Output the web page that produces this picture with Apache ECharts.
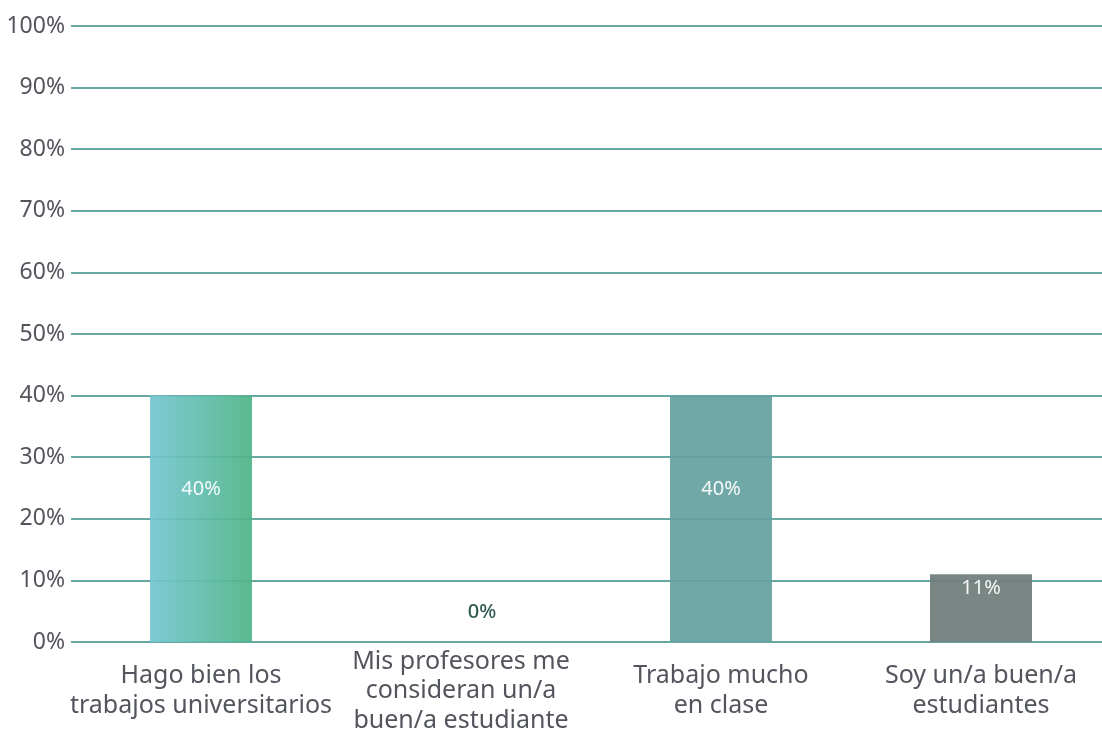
<!DOCTYPE html>
<html>
<head>
<meta charset="utf-8">
<script src="https://cdn.jsdelivr.net/npm/echarts@6/dist/echarts.min.js"></script>
<style>
  html, body { margin: 0; padding: 0; background: #ffffff; }
  #chart { width: 1102px; height: 733px; }
</style>
</head>
<body>
<div id="chart"></div>
<script>
// Survey answers and their shares (percent)
const categories = [
  'Hago bien los\ntrabajos universitarios',
  'Mis profesores me\nconsideran un/a\nbuen/a estudiante',
  'Trabajo mucho\nen clase',
  'Soy un/a buen/a\nestudiantes'
];
const values = [40, 0, 40, 11];
const yTicks = [0, 10, 20, 30, 40, 50, 60, 70, 80, 90, 100];

const FONT = '"Noto Sans", "Open Sans", sans-serif';
const TEXT = '#52555c';
const GRID = '#68a8a3';

// Bars are slightly translucent so the grid shows through
const barColors = [
  { type: 'linear', x: 0, y: 0, x2: 1, y2: 0,
    colorStops: [{ offset: 0, color: '#74c6d2' }, { offset: 1, color: '#4fb487' }] },
  '#64a19f',
  '#64a19f',
  '#707d7b'
];

// Label placement per bar
const labelSpecs = [
  { position: 'inside', offset: [0, -30], color: '#ffffff' },
  { position: 'top', distance: 20, offset: [21, 0], color: '#1f4d45', fontWeight: 500 },
  { position: 'inside', offset: [0, -30], color: '#ffffff' },
  { position: 'insideTop', distance: 4, color: '#ffffff' }
];

const seriesData = values.map((v, i) => ({
  value: v,
  itemStyle: { color: barColors[i] },
  label: Object.assign({ show: true }, labelSpecs[i])
}));

const chart = echarts.init(document.getElementById('chart'));
chart.setOption({
  animation: false,
  grid: {
    left: 71, width: 1040, top: 26, bottom: 91,
    containLabel: false, outerBoundsMode: 'none'
  },
  xAxis: {
    type: 'category',
    data: categories,
    axisLine: { show: false },
    axisTick: { show: false },
    axisLabel: {
      interval: 0,
      margin: 49,
      verticalAlign: 'middle',
      fontFamily: FONT,
      fontSize: 25,
      lineHeight: 29.5,
      color: TEXT
    }
  },
  yAxis: {
    type: 'value',
    min: 0,
    max: 100,
    interval: 10,
    axisLine: { show: false },
    axisTick: { show: false },
    axisLabel: {
      formatter: v => yTicks.includes(v) ? v + '%' : '',
      fontFamily: FONT,
      fontSize: 23,
      color: TEXT,
      margin: 6,
      padding: [0, 0, 11, 0]
    },
    splitLine: { lineStyle: { color: GRID, width: 2 } }
  },
  series: [{
    type: 'bar',
    data: seriesData,
    barWidth: 102,
    itemStyle: { opacity: 0.93 },
    label: {
      show: true,
      formatter: '{c}%',
      fontFamily: FONT,
      fontSize: 20
    }
  }]
});
</script>
</body>
</html>
